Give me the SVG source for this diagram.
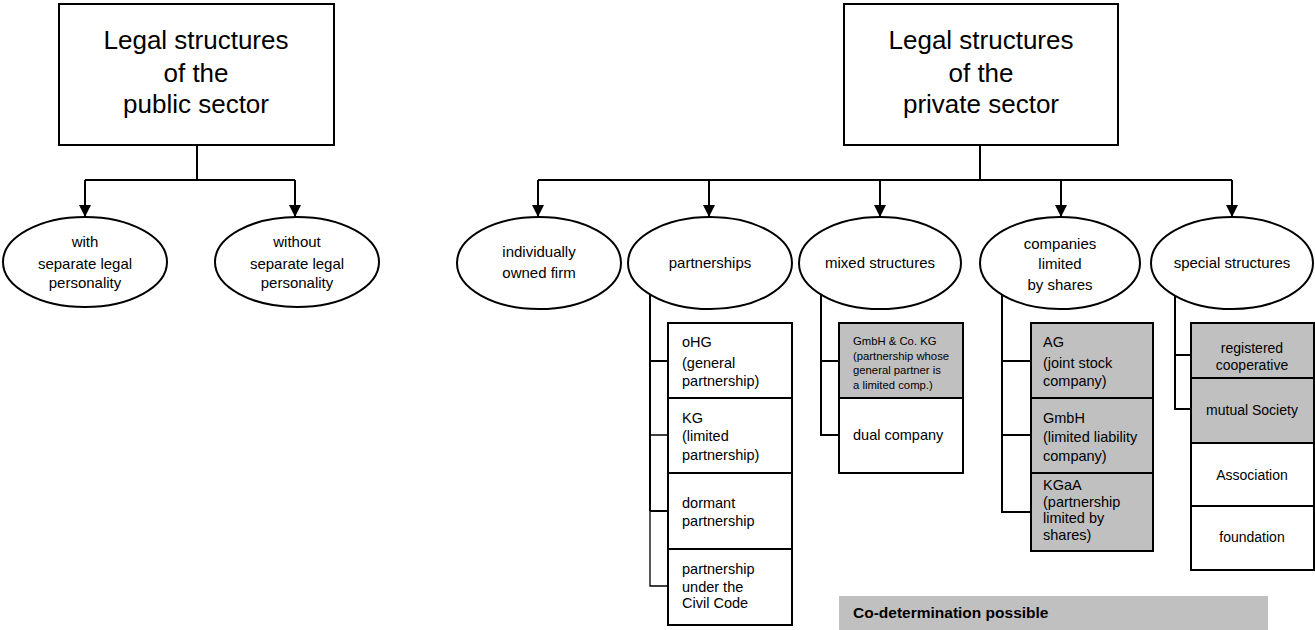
<svg xmlns="http://www.w3.org/2000/svg" width="1315" height="630" viewBox="0 0 1315 630">
<defs>
<marker id="arr" markerUnits="userSpaceOnUse" markerWidth="14" markerHeight="12" refX="12" refY="6" orient="auto">
<path d="M0,0 L12,6 L0,12 Z" fill="#000"/>
</marker>
<style>
text{font-family:"Liberation Sans",Arial,sans-serif;fill:#000}
.title{font-size:26px;text-anchor:middle}
.el{font-size:15px;text-anchor:middle}
.bx{font-size:14.5px}
.bc{font-size:14px;text-anchor:middle}
.sm{font-size:11.3px}
.node{fill:#fff;stroke:#000;stroke-width:2}
.grey{fill:#c0c0c0;stroke:#000;stroke-width:2}
.ln{fill:none;stroke:#000;stroke-width:2}
.thin{fill:none;stroke:#000;stroke-width:1.3}
.arr{fill:none;stroke:#000;stroke-width:2;marker-end:url(#arr)}
</style>
</defs>
<rect width="1315" height="630" fill="#fff"/>

<g id="connectors">
<path class="ln" d="M197,145 V180 M85,180 H295"/>
<path class="arr" d="M85,180 V217"/>
<path class="arr" d="M295,180 V217"/>
<path class="ln" d="M980,145 V180 M538,180 H1232"/>
<path class="arr" d="M538,180 V217"/>
<path class="arr" d="M709,180 V217"/>
<path class="arr" d="M880,180 V217"/>
<path class="arr" d="M1061,180 V217"/>
<path class="arr" d="M1232,180 V217"/>
<path class="ln" d="M650,292 V511 M650,361 H668 M650,511 H668"/>
<path class="thin" d="M650,511 V586 H668 M650,435 H668"/>
<path class="ln" d="M821,292 V435 H839 M821,361 H839"/>
<path class="ln" d="M1002,292 V512 H1031 M1002,361 H1031 M1002,435 H1031"/>
<path class="ln" d="M1175,292 V409 H1191 M1175,355 H1191"/>
</g>

<g id="public">
<rect class="node" x="59" y="4" width="275" height="141"/>
<text class="title" x="196" y="49">Legal structures</text>
<text class="title" x="196" y="82">of the</text>
<text class="title" x="196" y="113">public sector</text>
</g>
<g id="public-with">
<ellipse class="node" cx="85" cy="262" rx="82" ry="45"/>
<text class="el" x="85" y="247">with</text>
<text class="el" x="85" y="269">separate legal</text>
<text class="el" x="85" y="288">personality</text>
</g>
<g id="public-without">
<ellipse class="node" cx="297" cy="262" rx="82" ry="45"/>
<text class="el" x="297" y="247">without</text>
<text class="el" x="297" y="269">separate legal</text>
<text class="el" x="297" y="288">personality</text>
</g>

<g id="private">
<rect class="node" x="844" y="4" width="274" height="141"/>
<text class="title" x="981" y="49">Legal structures</text>
<text class="title" x="981" y="82">of the</text>
<text class="title" x="981" y="113">private sector</text>
</g>
<g id="individual">
<ellipse class="node" cx="539" cy="263" rx="82" ry="46"/>
<text class="el" x="539" y="257">individually</text>
<text class="el" x="539" y="278">owned firm</text>
</g>
<g id="partnerships">
<ellipse class="node" cx="710" cy="263" rx="82" ry="46"/>
<text class="el" x="710" y="268">partnerships</text>
</g>
<g id="mixed">
<ellipse class="node" cx="880" cy="263" rx="81" ry="46"/>
<text class="el" x="880" y="268">mixed structures</text>
</g>
<g id="companies">
<ellipse class="node" cx="1060" cy="263" rx="80" ry="46"/>
<text class="el" x="1060" y="249">companies</text>
<text class="el" x="1060" y="269">limited</text>
<text class="el" x="1060" y="290">by shares</text>
</g>
<g id="special">
<ellipse class="node" cx="1232" cy="263" rx="81" ry="46"/>
<text class="el" x="1232" y="268">special structures</text>
</g>

<g id="ohg">
<rect class="node" x="668" y="323" width="124" height="75"/>
<text class="bx" x="682" y="347">oHG</text>
<text class="bx" x="682" y="368">(general</text>
<text class="bx" x="682" y="386">partnership)</text>
</g>
<g id="kg">
<rect class="node" x="668" y="398" width="124" height="75"/>
<text class="bx" x="682" y="423">KG</text>
<text class="bx" x="682" y="441">(limited</text>
<text class="bx" x="682" y="460">partnership)</text>
</g>
<g id="dormant">
<rect class="node" x="668" y="473" width="124" height="76"/>
<text class="bx" x="682" y="508">dormant</text>
<text class="bx" x="682" y="526">partnership</text>
</g>
<g id="civil">
<rect class="node" x="668" y="549" width="124" height="76"/>
<text class="bx" x="682" y="574">partnership</text>
<text class="bx" x="682" y="592">under the</text>
<text class="bx" x="682" y="608">Civil Code</text>
</g>

<g id="gmbhcokg">
<rect class="grey" x="839" y="323" width="124" height="75"/>
<text class="sm" x="853" y="345">GmbH &amp; Co. KG</text>
<text class="sm" x="853" y="360">(partnership whose</text>
<text class="sm" x="853" y="374">general partner is</text>
<text class="sm" x="853" y="389">a limited comp.)</text>
</g>
<g id="dual">
<rect class="node" x="839" y="398" width="124" height="75"/>
<text class="bx" x="853" y="440">dual company</text>
</g>

<g id="ag">
<rect class="grey" x="1031" y="323" width="122" height="75"/>
<text class="bx" x="1043" y="347">AG</text>
<text class="bx" x="1043" y="368">(joint stock</text>
<text class="bx" x="1043" y="386">company)</text>
</g>
<g id="gmbh">
<rect class="grey" x="1031" y="398" width="122" height="75"/>
<text class="bx" x="1043" y="423">GmbH</text>
<text class="bx" x="1043" y="442">(limited liability</text>
<text class="bx" x="1043" y="461">company)</text>
</g>
<g id="kgaa">
<rect class="grey" x="1031" y="473" width="122" height="78"/>
<text class="bx" x="1043" y="490">KGaA</text>
<text class="bx" x="1043" y="507">(partnership</text>
<text class="bx" x="1043" y="523">limited by</text>
<text class="bx" x="1043" y="540">shares)</text>
</g>

<g id="coop">
<rect class="grey" x="1191" y="323" width="123" height="55"/>
<text class="bc" x="1252" y="353">registered</text>
<text class="bc" x="1252" y="370">cooperative</text>
</g>
<g id="mutual">
<rect class="grey" x="1191" y="378" width="123" height="65"/>
<text class="bc" x="1252" y="415">mutual Society</text>
</g>
<g id="association">
<rect class="node" x="1191" y="443" width="123" height="63"/>
<text class="bc" x="1252" y="480">Association</text>
</g>
<g id="foundation">
<rect class="node" x="1191" y="506" width="123" height="64"/>
<text class="bc" x="1252" y="542">foundation</text>
</g>

<g id="legend">
<rect x="839" y="596" width="429" height="34" fill="#c0c0c0"/>
<text x="853" y="618" font-size="15.5" font-weight="bold">Co-determination possible</text>
</g>
</svg>
